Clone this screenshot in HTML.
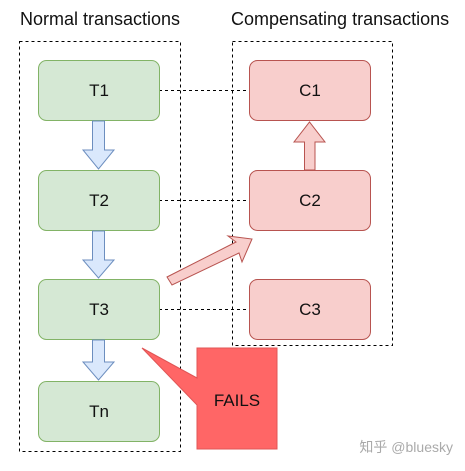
<!DOCTYPE html>
<html><head><meta charset="utf-8"><style>
body{margin:0;background:#fff;}
</style></head><body>
<svg width="465" height="466" viewBox="0 0 465 466" xmlns="http://www.w3.org/2000/svg" font-family="Liberation Sans, Noto Sans CJK SC, sans-serif">
<rect width="465" height="466" fill="#fff"/>
<text x="20" y="25" font-size="18" fill="#111">Normal transactions</text>
<text x="231" y="25" font-size="18" fill="#111">Compensating transactions</text>
<rect x="19.5" y="41.5" width="161" height="410" fill="none" stroke="#000" stroke-dasharray="3,3"/>
<rect x="232.5" y="41.5" width="160" height="304" fill="none" stroke="#000" stroke-dasharray="3,3"/>
<g stroke="#000" stroke-dasharray="3,3">
<line x1="159" y1="90.5" x2="249" y2="90.5"/>
<line x1="159" y1="200.5" x2="249" y2="200.5"/>
<line x1="159" y1="309.5" x2="249" y2="309.5"/>
</g>
<g fill="#d5e8d4" stroke="#82b366">
<rect x="38.5" y="60.5" width="121" height="60" rx="8"/>
<rect x="38.5" y="170.5" width="121" height="60" rx="8"/>
<rect x="38.5" y="279.5" width="121" height="60" rx="8"/>
<rect x="38.5" y="381.5" width="121" height="60" rx="8"/>
</g>
<g fill="#f8cecc" stroke="#b85450">
<rect x="249.5" y="60.5" width="121" height="60" rx="8"/>
<rect x="249.5" y="170.5" width="121" height="60" rx="8"/>
<rect x="249.5" y="279.5" width="121" height="60" rx="8"/>
</g>
<g fill="#dae8fc" stroke="#6c8ebf">
<path d="M92.5 121 H104.5 V150 H114 L98.5 169 L83 150 H92.5 Z"/>
<path d="M92.5 231 H104.5 V260 H114 L98.5 278 L83 260 H92.5 Z"/>
<path d="M92.5 340 H104.5 V362 H114 L98.5 380 L83 362 H92.5 Z"/>
</g>
<g fill="#f8cecc" stroke="#b85450">
<path d="M304.5 170 V142 H294 L309.5 122 L325 142 H315 V170 Z"/>
<path d="M167 277 L236 242 L228 236 L252 239 L242 262 L239 253 L172 285 Z"/>
</g>
<path d="M142 348 L197 378 V348 H277 V449 H197 V405 Z" fill="#ff6666" stroke="#e05555"/>
<g font-size="17" fill="#111" text-anchor="middle">
<text x="99" y="96">T1</text><text x="99" y="206">T2</text><text x="99" y="315">T3</text><text x="99" y="417">Tn</text>
<text x="310" y="96">C1</text><text x="310" y="206">C2</text><text x="310" y="315">C3</text>
<text x="237" y="406">FAILS</text>
</g>
<text x="453" y="452" font-size="14" fill="#aaa" text-anchor="end">知乎 @bluesky</text>
</svg>
</body></html>
